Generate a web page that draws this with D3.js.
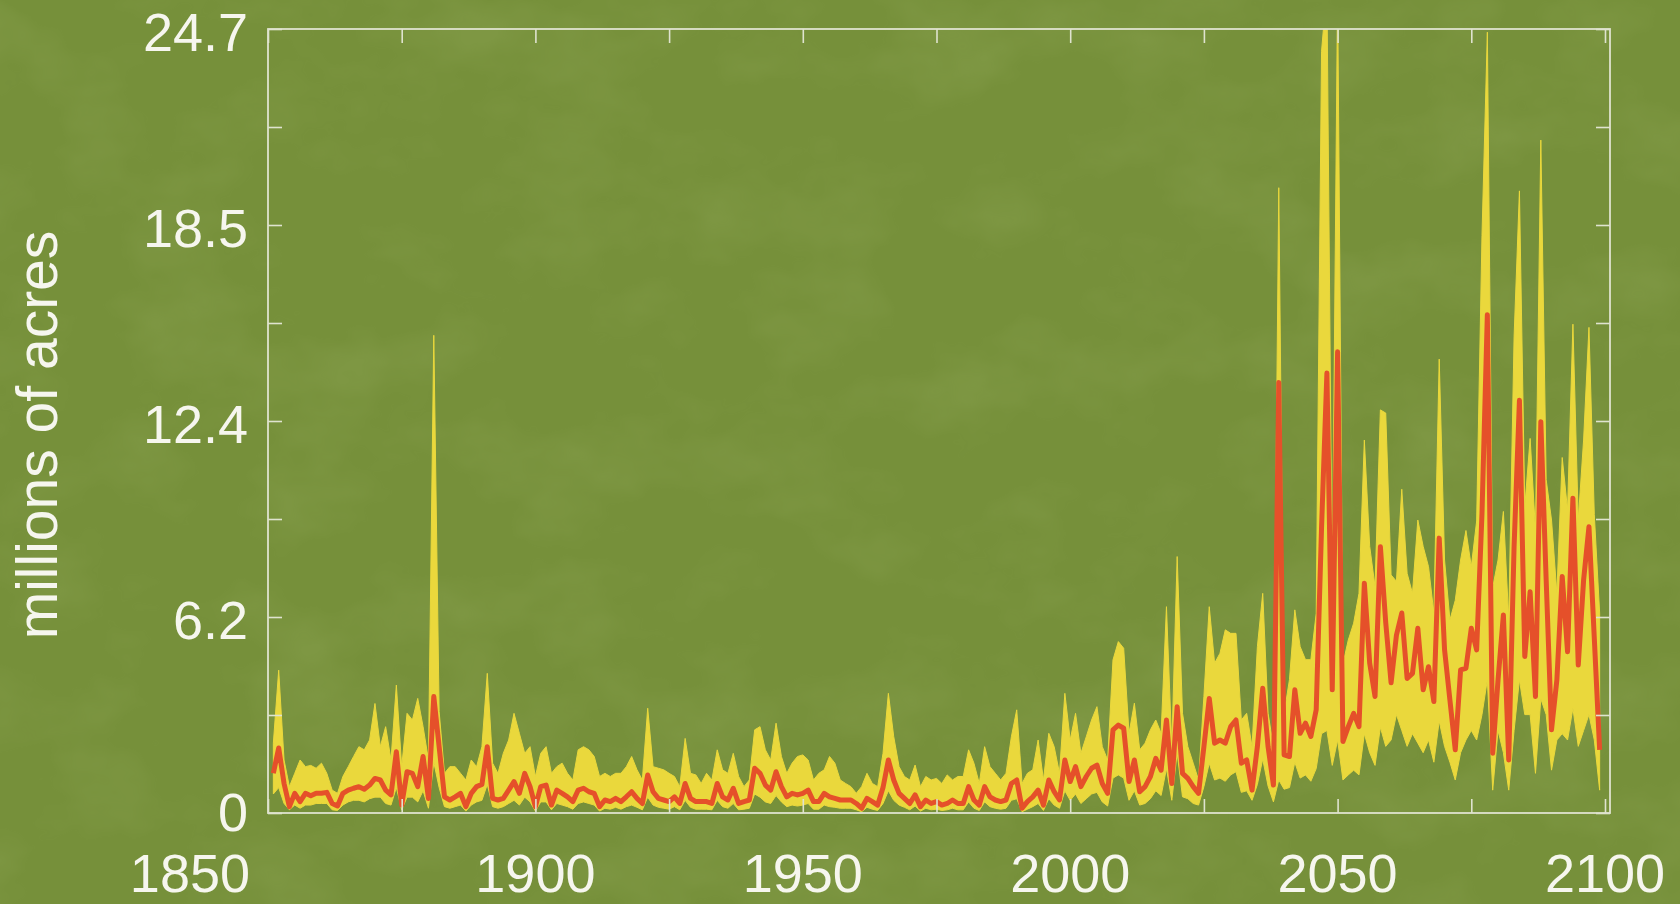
<!DOCTYPE html>
<html>
<head>
<meta charset="utf-8">
<script src="https://cdn.jsdelivr.net/npm/d3@7"></script>
<style>
  html, body { margin: 0; padding: 0; background: #78923a; overflow: hidden; }
  svg { display: block; }
  text { font-family: "Liberation Sans", Arial, Helvetica, sans-serif; fill: #f6f6ee; }
</style>
</head>
<body>
<div class="grafico"></div>
<script>
var width = 1680, height = 904;
var margin = {top: 29, right: 70, bottom: 91, left: 268};

// one value per year, 1851 - 2099
const years = d3.range(1851, 2100);

// ensemble median (red)
const median = [
  1.25,2.05,0.93,0.2,0.62,0.36,0.62,0.54,0.62,0.62,
  0.65,0.3,0.22,0.62,0.72,0.78,0.83,0.75,0.88,1.09,
  1.04,0.72,0.57,1.93,0.25,1.3,1.25,0.83,1.78,0.46,
  3.67,2.09,0.51,0.41,0.51,0.62,0.2,0.62,0.83,0.9,
  2.09,0.46,0.41,0.46,0.72,0.99,0.62,1.25,0.83,0.2,
  0.83,0.88,0.25,0.72,0.62,0.51,0.36,0.72,0.78,0.67,
  0.62,0.2,0.41,0.36,0.46,0.36,0.51,0.67,0.46,0.3,
  1.2,0.67,0.46,0.41,0.36,0.51,0.3,0.93,0.46,0.36,
  0.36,0.36,0.3,0.93,0.51,0.41,0.78,0.3,0.36,0.41,
  1.41,1.25,0.88,0.72,1.3,0.83,0.51,0.62,0.57,0.62,
  0.72,0.36,0.36,0.62,0.51,0.46,0.41,0.41,0.41,0.3,
  0.15,0.46,0.36,0.25,0.8,1.67,1.04,0.62,0.46,0.3,
  0.57,0.2,0.41,0.3,0.36,0.25,0.3,0.41,0.3,0.3,
  0.83,0.41,0.25,0.83,0.51,0.41,0.36,0.41,0.93,1.04,
  0.15,0.36,0.51,0.72,0.25,1.04,0.67,0.41,1.67,0.99,
  1.46,0.83,1.15,1.41,1.51,0.93,0.62,2.62,2.77,2.67,
  0.99,1.67,0.67,0.83,1.15,1.72,1.35,2.93,0.93,3.35,
  1.25,1.09,0.83,0.62,2.09,3.61,2.2,2.3,2.2,2.72,
  2.93,1.57,1.67,0.72,2.09,3.93,2.09,0.88,13.56,1.83,
  1.78,3.88,2.51,2.83,2.41,3.25,9.0,13.86,3.88,14.53,
  2.25,2.72,3.14,2.72,7.24,4.72,3.67,8.39,6.0,4.1,
  5.6,6.3,4.24,4.4,5.82,3.88,4.61,3.51,8.66,5.14,
  3.56,1.99,4.51,4.56,5.82,5.14,9.44,15.7,1.88,4.19,
  6.24,1.67,8.4,13.0,4.93,6.97,3.67,12.33,7.34,2.62,
  4.19,7.45,5.08,9.92,4.66,7.34,9.02,5.5,1.99
];

// ensemble maximum (top of yellow)
const upper = [
  2.2,4.5,1.67,0.83,1.25,1.67,1.46,1.5,1.41,1.57,
  1.25,0.72,0.62,1.15,1.46,1.78,2.09,1.99,2.3,3.45,
  2.09,2.72,1.67,4.03,1.46,3.14,2.93,3.61,2.72,1.67,
  15.05,3.2,1.25,1.46,1.46,1.25,1.04,1.67,1.46,2.09,
  4.4,1.57,1.25,1.88,2.3,3.14,2.51,1.88,2.09,1.15,
  1.88,2.09,1.25,1.46,1.57,1.25,1.04,1.99,2.09,1.99,
  1.78,1.15,1.25,1.15,1.25,1.25,1.46,1.78,1.36,1.04,
  3.3,1.46,1.41,1.36,1.25,1.15,0.83,2.35,1.25,1.2,
  0.93,1.25,1.04,1.99,1.36,1.25,1.88,1.15,0.83,1.04,
  2.62,2.72,1.99,1.67,2.83,1.78,1.25,1.57,1.78,1.83,
  1.67,1.04,1.25,1.36,1.78,1.57,1.04,0.93,0.83,0.62,
  0.83,1.25,0.93,0.83,1.88,3.77,2.41,1.46,1.15,1.04,
  1.51,0.83,1.15,1.04,1.09,0.93,1.2,1.04,1.15,1.15,
  1.99,1.57,0.93,2.09,1.46,1.25,1.04,1.25,2.4,3.25,
  0.93,1.25,1.36,2.3,1.04,2.51,2.09,1.25,3.77,2.3,
  3.14,1.88,2.4,2.93,3.35,2.09,1.67,4.82,5.4,5.19,
  2.51,3.46,1.99,2.2,2.62,2.93,2.51,6.5,2.09,8.08,
  3.14,2.09,1.57,1.04,3.67,6.5,4.72,5.03,5.77,5.66,
  5.66,2.93,3.14,2.09,5.24,6.92,3.14,2.09,19.7,3.14,
  4.2,6.4,5.24,4.83,4.83,6.29,24.0,26,7.0,26,
  4.7,5.45,5.98,6.92,11.75,8.4,7.13,12.7,12.6,7.5,
  7.3,10.2,7.55,6.92,9.23,8.4,7.76,6.29,14.3,7.97,
  6.08,6.7,7.97,8.9,7.76,9.2,18.2,24.6,7.1,7.97,
  9.5,6.08,15.0,19.6,9.65,11.8,8.9,21.2,10.5,9.23,
  6.92,11.2,9.55,15.4,9.23,11.75,15.3,9.4,6.3
];

// ensemble minimum (bottom of yellow)
const lower = [
  0.6,0.8,0.3,0.1,0.25,0.15,0.25,0.25,0.3,0.3,
  0.3,0.1,0.08,0.25,0.35,0.4,0.4,0.35,0.45,0.5,
  0.5,0.3,0.25,0.8,0.1,0.5,0.5,0.35,0.7,0.15,
  1.6,0.8,0.2,0.15,0.2,0.25,0.06,0.25,0.35,0.4,
  0.9,0.2,0.15,0.2,0.3,0.4,0.25,0.5,0.35,0.06,
  0.35,0.35,0.1,0.3,0.25,0.2,0.12,0.3,0.35,0.3,
  0.25,0.06,0.15,0.12,0.18,0.12,0.2,0.25,0.18,0.1,
  0.5,0.25,0.18,0.15,0.12,0.2,0.1,0.4,0.18,0.12,
  0.12,0.12,0.1,0.4,0.2,0.15,0.3,0.1,0.12,0.15,
  0.6,0.5,0.35,0.3,0.55,0.35,0.2,0.25,0.22,0.25,
  0.3,0.12,0.12,0.25,0.2,0.18,0.15,0.15,0.15,0.1,
  0.04,0.18,0.12,0.08,0.3,0.7,0.4,0.25,0.18,0.1,
  0.22,0.06,0.15,0.1,0.12,0.08,0.1,0.15,0.1,0.1,
  0.35,0.15,0.08,0.35,0.2,0.15,0.12,0.15,0.4,0.45,
  0.04,0.12,0.2,0.3,0.08,0.45,0.25,0.15,0.7,0.4,
  0.6,0.3,0.45,0.6,0.65,0.35,0.22,1.1,1.2,1.1,
  0.4,0.7,0.25,0.3,0.45,0.7,0.55,1.4,0.4,1.9,
  0.51,0.45,0.3,0.25,0.83,1.57,1.04,1.1,1.0,1.2,
  1.3,0.65,0.7,0.4,0.9,1.7,0.85,0.35,1.04,0.75,
  0.8,1.6,1.1,1.2,1.0,1.4,2.5,2.6,1.5,2.3,
  1.04,1.2,1.35,1.2,2.5,1.9,1.5,2.7,2.1,2.3,
  3.1,2.6,2.1,2.5,2.2,1.9,2.3,1.6,2.9,2.1,
  1.6,1.04,1.9,2.3,2.6,2.3,3.1,4.2,0.72,2.6,
  1.9,0.72,2.6,4.2,3.1,3.1,1.25,3.6,3.1,1.35,
  2.3,2.5,2.3,3.3,2.1,2.6,3.1,2.3,0.72
];

// axis ticks and labels
const xTicks = [1850, 1875, 1900, 1925, 1950, 1975, 2000, 2025, 2050, 2075, 2100];
const xLabels = [1850, 1900, 1950, 2000, 2050, 2100];
const yMax = 24.7;
const yTicks = [0, 3.0875, 6.175, 9.2625, 12.35, 15.4375, 18.525, 21.6125, 24.7];
const yLabelValues = [0, 6.175, 12.35, 18.525, 24.7];
const yLabelText = ["0", "6.2", "12.4", "18.5", "24.7"];

var datos = years.map((d, i) => ({anio: d, med: median[i], hi: upper[i], lo: lower[i]}));

var svg = d3.select(".grafico").append("svg")
  .attr("width", width)
  .attr("height", height);

// background with a faint mottled texture
var defs = svg.append("defs");
var f = defs.append("filter").attr("id", "grain")
  .attr("x", 0).attr("y", 0).attr("width", "100%").attr("height", "100%");
f.append("feTurbulence").attr("type", "fractalNoise")
  .attr("baseFrequency", "0.008 0.012").attr("numOctaves", 4).attr("seed", 7);
f.append("feColorMatrix").attr("type", "matrix")
  .attr("values", "0 0 0 0 0.50  0 0 0 0 0.61  0 0 0 0 0.25  0 0 0 -2.2 1.25");
defs.append("clipPath").attr("id", "plotClip")
  .append("rect")
  .attr("x", margin.left).attr("y", margin.top)
  .attr("width", width - margin.left - margin.right)
  .attr("height", height - margin.top - margin.bottom);

svg.append("rect").attr("width", width).attr("height", height).attr("fill", "#76903a");
svg.append("rect").attr("width", width).attr("height", height)
  .attr("filter", "url(#grain)").attr("opacity", 0.12);

// scales
var x = d3.scaleLinear().domain([1850, 2100]).range([margin.left, 1605]);
var y = d3.scaleLinear().domain([0, yMax]).range([height - margin.bottom, margin.top]);
var x0 = margin.left, x1 = width - margin.right, y0 = height - margin.bottom, y1 = margin.top;

var area = d3.area()
  .x(d => x(d.anio))
  .y0(d => y(d.lo))
  .y1(d => y(d.hi));
var line = d3.line()
  .x(d => x(d.anio))
  .y(d => y(d.med));

var g = svg.append("g").attr("clip-path", "url(#plotClip)");
g.append("path").datum(datos)
  .attr("d", area)
  .attr("fill", "#ead83c")
  .attr("stroke", "#ead83c")
  .attr("stroke-width", 1);
g.append("path").datum(datos)
  .attr("d", line)
  .attr("fill", "none")
  .attr("stroke", "#e5502a")
  .attr("stroke-width", 5)
  .attr("stroke-linejoin", "round");

// frame + inward ticks on all four sides
var axisColor = "#dfe3cf", tickLen = 14;
svg.append("g").attr("transform", "translate(0," + y0 + ")")
  .call(d3.axisBottom(x).tickValues(xTicks).tickSize(-tickLen).tickFormat(""))
  .call(a => a.select(".domain").remove());
svg.append("g").attr("transform", "translate(0," + y1 + ")")
  .call(d3.axisTop(x).tickValues(xTicks).tickSize(-tickLen).tickFormat(""))
  .call(a => a.select(".domain").remove());
svg.append("g").attr("transform", "translate(" + x0 + ",0)")
  .call(d3.axisLeft(y).tickValues(yTicks).tickSize(-tickLen).tickFormat(""))
  .call(a => a.select(".domain").remove());
svg.append("g").attr("transform", "translate(" + x1 + ",0)")
  .call(d3.axisRight(y).tickValues(yTicks).tickSize(-tickLen).tickFormat(""))
  .call(a => a.select(".domain").remove());
svg.selectAll(".tick line").attr("stroke", axisColor).attr("stroke-width", 1.6);

svg.append("rect")
  .attr("x", x0).attr("y", y1)
  .attr("width", x1 - x0).attr("height", y0 - y1)
  .attr("fill", "none")
  .attr("stroke", axisColor)
  .attr("stroke-width", 1.8);

// y labels
svg.selectAll("text.ylab")
  .data(yLabelValues)
  .enter()
  .append("text")
  .attr("class", "ylab")
  .attr("x", 248)
  .attr("y", d => y(d) + (d === 0 ? 18 : 22))
  .attr("text-anchor", "end")
  .attr("font-size", 54)
  .text((d, i) => yLabelText[i]);

// x labels (first one pulled left of the frame, as in the original)
svg.selectAll("text.xlab")
  .data(xLabels)
  .enter()
  .append("text")
  .attr("class", "xlab")
  .attr("x", d => d === 1850 ? 250 : x(d))
  .attr("y", 892)
  .attr("text-anchor", d => d === 1850 ? "end" : "middle")
  .attr("font-size", 54)
  .text(d => d);

svg.append("text")
  .attr("transform", "translate(57,435) rotate(-90)")
  .attr("text-anchor", "middle")
  .attr("font-size", 57)
  .text("millions of acres");
</script>
</body>
</html>
